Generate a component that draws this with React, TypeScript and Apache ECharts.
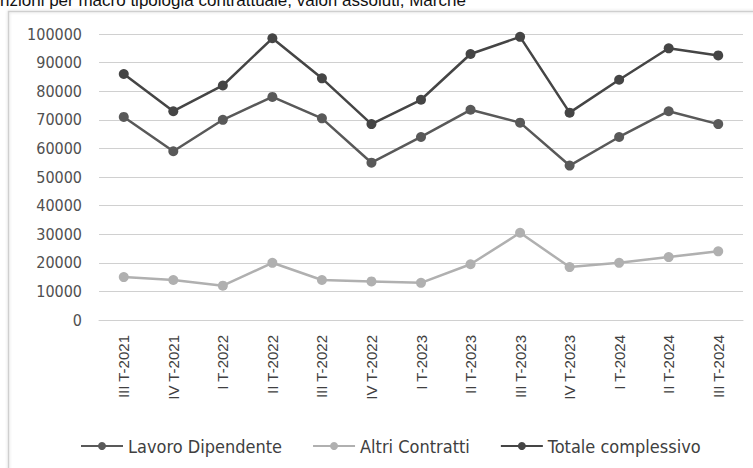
import React, { useEffect, useRef } from "react";
import * as echarts from "echarts";

const categories = [
  "III T-2021", "IV T-2021", "I T-2022", "II T-2022", "III T-2022", "IV T-2022",
  "I T-2023", "II T-2023", "III T-2023", "IV T-2023", "I T-2024", "II T-2024", "III T-2024",
];
const lavoroDipendente = [71000, 59000, 70000, 78000, 70500, 55000, 64000, 73500, 69000, 54000, 64000, 73000, 68500];
const altriContratti = [15000, 14000, 12000, 20000, 14000, 13500, 13000, 19500, 30500, 18500, 20000, 22000, 24000];
const totaleComplessivo = [86000, 73000, 82000, 98500, 84500, 68500, 77000, 93000, 99000, 72500, 84000, 95000, 92500];
const titleText = "nzioni per macro tipologia contrattuale, valori assoluti, Marche";

export default function App() {
  const ref = useRef<HTMLDivElement>(null);
  useEffect(() => {
    const chart = echarts.init(ref.current!, undefined, { renderer: "svg" });
    const mk = (name: string, data: number[], color: string) => ({
      name,
      type: "line",
      data,
      symbol: "circle",
      symbolSize: 10,
      lineStyle: { color, width: 2.5 },
      itemStyle: { color },
    });
    chart.setOption({
      animation: false,
      backgroundColor: "#ffffff",
      graphic: [
        {
          type: "rect",
          shape: { x: 8.5, y: 11.5, width: 760, height: 470 },
          style: { fill: "none", stroke: "#cfcfcf", lineWidth: 1.5, shadowBlur: 3, shadowColor: "rgba(0,0,0,0.15)" },
          z: -1,
        },
        {
          type: "text",
          left: 0,
          top: -8,
          style: { text: titleText, font: "17px 'Liberation Sans', Arial, sans-serif", fill: "#111" },
        },
      ],
      grid: { left: 99, right: 10, top: 34, bottom: 148, containLabel: false },
      legend: {
        top: 432,
        left: 75,
        itemWidth: 42,
        itemHeight: 10,
        itemGap: 30,
        textStyle: { fontFamily: "'DejaVu Sans Condensed', sans-serif", fontSize: 18, color: "#404040" },
        data: ["Lavoro Dipendente", "Altri Contratti", "Totale complessivo"],
      },
      xAxis: {
        type: "category",
        data: categories,
        boundaryGap: true,
        axisLine: { lineStyle: { color: "#d0d0d0" } },
        axisTick: { show: false },
        axisLabel: { rotate: 90, fontFamily: "'Liberation Sans', Arial, sans-serif", fontSize: 15, color: "#404040", margin: 15 },
      },
      yAxis: {
        type: "value",
        min: 0,
        max: 100000,
        interval: 10000,
        axisLine: { show: false },
        axisTick: { show: false },
        splitLine: { lineStyle: { color: "#d0d0d0", width: 1 } },
        axisLabel: {
          fontFamily: "'DejaVu Sans Condensed', sans-serif",
          fontSize: 16,
          color: "#505050",
          margin: 17,
          formatter: (v: number) => String(v),
        },
      },
      series: [
        mk("Lavoro Dipendente", lavoroDipendente, "#595959"),
        mk("Altri Contratti", altriContratti, "#b0b0b0"),
        mk("Totale complessivo", totaleComplessivo, "#454545"),
      ],
    });
    return () => chart.dispose();
  }, []);
  return <div ref={ref} style={{ position: "fixed", left: 0, top: 0, width: 753, height: 468 }} />;
}
